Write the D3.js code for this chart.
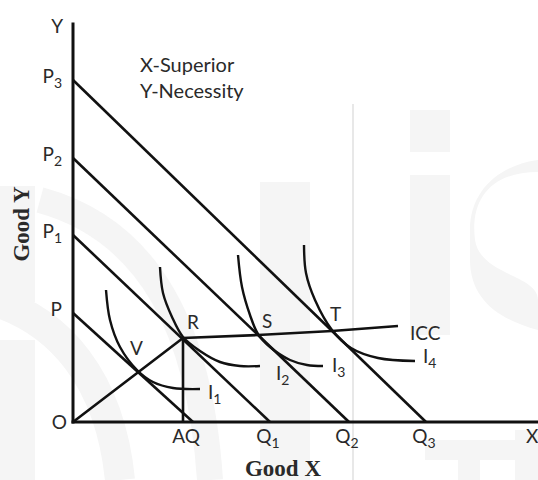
<!DOCTYPE html>
<html><head><meta charset="utf-8">
<script src="https://cdn.jsdelivr.net/npm/d3@7"></script>
<style>html,body{margin:0;padding:0;background:#fff;overflow:hidden}</style>
</head><body><svg id="c" width="538" height="480"></svg>
<script>
// ---- data (in chart units) ----
const budgetY = [109, 187, 264, 342];          // P, P1, P2, P3 (intercepts on Y)
const budgetX = [120, 197, 276, 353];          // Q, Q1, Q2, Q3 (intercepts on X)
const yTickNames = ["P", "P", "P", "P"];
const yTickSubs = ["", "1", "2", "3"];
const xTickNames = ["AQ", "Q", "Q", "Q"];
const xTickSubs = ["", "1", "2", "3"];
const xTickPos = [115, 197, 276, 353];
const pointNames = ["V", "R", "S", "T"];
const pointX = [64, 110, 185, 259];
const pointY = [51, 84, 87, 91];
const iccEndX = 325, iccEndY = 96;
const curveI1 = [[33,132],[37,102],[47,75],[64,52],[80,40],[100,34],[127,33]];
const curveI2 = [[87,155],[90,129],[99,105],[110,85],[127,71],[147,60],[167,56],[187,56]];
const curveI3 = [[165,167],[169,135],[177,107],[185,88],[197,75],[217,62],[234,57],[250,56]];
const curveI4 = [[231,177],[233,149],[242,122],[259,92],[278,74],[305,64],[342,61]];
const curveSubs = ["1", "2", "3", "4"];
const xMax = 464, yMax = 398;

const svg = d3.select("#c");
const x = d3.scaleLinear().domain([0, xMax]).range([73, 537]);
const y = d3.scaleLinear().domain([0, yMax]).range([422, 24]);
const ink = "#111", txt = "#2a2a2a";
const sans = "Lato, 'Open Sans', sans-serif";
const fs = 19;

// ---- faint watermark ----
const wmc = "#f5f5f5";
const wm = svg.append("g").attr("fill", wmc).attr("stroke", "none");
wm.append("rect").attr("x", 0).attr("y", 186).attr("width", 35).attr("height", 116);
wm.append("rect").attr("x", 0).attr("y", 340).attr("width", 35).attr("height", 140);
wm.append("rect").attr("x", 260).attr("y", 182).attr("width", 50).attr("height", 298);
wm.append("rect").attr("x", 410).attr("y", 110).attr("width", 40).attr("height", 42);
wm.append("rect").attr("x", 410).attr("y", 175).attr("width", 40).attr("height", 160);
wm.append("rect").attr("x", 425).attr("y", 440).attr("width", 90).attr("height", 20);
wm.append("rect").attr("x", 458).attr("y", 440).attr("width", 22).attr("height", 40);
wm.append("rect").attr("x", 515).attr("y", 430).attr("width", 23).attr("height", 50);
wm.append("path").attr("d", "M538,172 C490,172 470,200 475,240 C480,275 538,275 538,300 L538,330 C500,320 470,300 470,260 L470,230 C470,190 500,165 538,160 Z");
wm.append("path").attr("fill", "none").attr("stroke", wmc).attr("stroke-width", 30)
  .attr("d", "M120,480 C110,380 60,320 -10,300");
wm.append("path").attr("fill", "none").attr("stroke", wmc).attr("stroke-width", 26)
  .attr("d", "M210,480 C200,330 150,230 40,200");
svg.append("line").attr("x1", 353).attr("x2", 353).attr("y1", 104).attr("y2", 480)
  .attr("stroke", "#e0e0e0").attr("stroke-width", 1.5);

// ---- axes ----
const axes = svg.append("g").attr("stroke", ink).attr("stroke-width", 3).attr("stroke-linecap", "square");
axes.append("line").attr("x1", x(0)).attr("y1", y(0)).attr("x2", x(0)).attr("y2", y(yMax));
axes.append("line").attr("x1", x(0)).attr("y1", y(0)).attr("x2", x(xMax)).attr("y2", y(0));

// ---- budget lines ----
svg.append("g").selectAll("line").data(budgetY).join("line")
  .attr("x1", x(0)).attr("y1", d => y(d))
  .attr("x2", (d, i) => x(budgetX[i])).attr("y2", y(0))
  .attr("stroke", ink).attr("stroke-width", 2.6);

// ---- ICC and drop line ----
const line = d3.line().x(d => x(d[0])).y(d => y(d[1]));
const icc = [[0, 0]].concat(pointX.slice(1).map((px, i) => [px, pointY[i + 1]])).concat([[iccEndX, iccEndY]]);
svg.append("path").attr("d", line(icc)).attr("fill", "none").attr("stroke", ink).attr("stroke-width", 2.6);
svg.append("line").attr("x1", x(pointX[1])).attr("x2", x(pointX[1])).attr("y1", y(pointY[1])).attr("y2", y(0))
  .attr("stroke", ink).attr("stroke-width", 2.6);

// ---- indifference curves ----
const smooth = d3.line().x(d => x(d[0])).y(d => y(d[1])).curve(d3.curveCatmullRom.alpha(0.5));
const curves = [curveI1, curveI2, curveI3, curveI4];
svg.append("g").selectAll("path").data(curves).join("path")
  .attr("d", d => smooth(d)).attr("fill", "none").attr("stroke", ink).attr("stroke-width", 2.4);

// ---- text helpers ----
function label(px, py, main, sub, anchor) {
  const t = svg.append("text").attr("x", px).attr("y", py)
    .attr("font-family", sans).attr("font-size", fs).attr("fill", txt)
    .attr("text-anchor", anchor || "start");
  t.append("tspan").text(main);
  if (sub) t.append("tspan").attr("font-size", 14).attr("dy", 5).text(sub);
  return t;
}

// axis end labels
label(x(0) - 10, y(yMax) + 9, "Y", "", "end");
label(526, y(0) + 21, "X", "", "start");
label(x(0) - 6, y(0) + 7, "O", "", "end");

// Y tick labels
budgetY.forEach((v, i) => label(x(0) - 11, y(v) + 3, yTickNames[i], yTickSubs[i], "end"));
// X tick labels
xTickPos.forEach((v, i) => label(x(v) - 2, y(0) + 21, xTickNames[i], xTickSubs[i], "middle"));

// point labels
const ptOff = [[-7, -16], [4, -9], [4, -7], [-2, -10]];
pointNames.forEach((n, i) => label(x(pointX[i]) + ptOff[i][0], y(pointY[i]) + ptOff[i][1], n, "", "start"));
label(x(iccEndX) + 12, y(iccEndY) + 14, "ICC", "", "start");

// curve labels
const subOff = [[8, 10], [16, 14], [9, 6], [8, 2]];
curves.forEach((c, i) => {
  const e = c[c.length - 1];
  label(x(e[0]) + subOff[i][0], y(e[1]) + subOff[i][1], "I", curveSubs[i], "start");
});

// annotations
svg.append("text").attr("x", 140).attr("y", 72).attr("font-family", sans).attr("font-size", fs + 1).attr("fill", txt).text("X-Superior");
svg.append("text").attr("x", 140).attr("y", 98).attr("font-family", sans).attr("font-size", fs + 1).attr("fill", txt).text("Y-Necessity");

// axis titles
svg.append("text").attr("x", 283).attr("y", 476).attr("text-anchor", "middle")
  .attr("font-family", "'Liberation Serif', 'Times New Roman', serif").attr("font-weight", "bold")
  .attr("font-size", 23).attr("fill", txt).text("Good X");
svg.append("text").attr("transform", "translate(29,224) rotate(-90)").attr("text-anchor", "middle")
  .attr("font-family", "'Liberation Serif', 'Times New Roman', serif").attr("font-weight", "bold")
  .attr("font-size", 23).attr("fill", txt).text("Good Y");
</script></body></html>
